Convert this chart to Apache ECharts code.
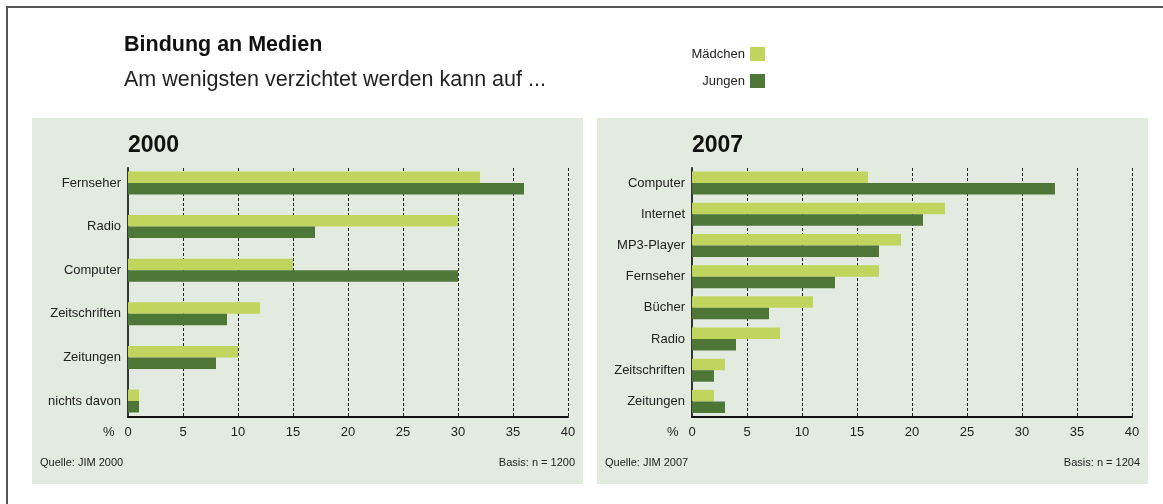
<!DOCTYPE html>
<html>
<head>
<meta charset="utf-8">
<script src="https://cdn.jsdelivr.net/npm/echarts@6/dist/echarts.min.js"></script>
<style>
  html, body { margin: 0; padding: 0; background: #fff; }
  #chart { width: 1163px; height: 504px; }
</style>
</head>
<body>
<div id="chart"></div>
<script>
// Werte (in %)
const cats2000 = ['Fernseher', 'Radio', 'Computer', 'Zeitschriften', 'Zeitungen', 'nichts davon'];
const girls2000 = [32, 30, 15, 12, 10, 1];
const boys2000 = [36, 17, 30, 9, 8, 1];

const cats2007 = ['Computer', 'Internet', 'MP3-Player', 'Fernseher', 'Bücher', 'Radio', 'Zeitschriften', 'Zeitungen'];
const girls2007 = [16, 23, 19, 17, 11, 8, 3, 2];
const boys2007 = [33, 21, 17, 13, 7, 4, 2, 3];

const seriesNames = ['Mädchen', 'Jungen'];
const LIGHT = '#c1d45d';
const DARK = '#4d7637';
const PANEL = '#e3eadf';
const FONT = 'Liberation Sans';

const chart = echarts.init(document.getElementById('chart'));

// achse mit werten, sichtbar (gitter mit gestrichelten linien)
function frameX(gridIndex) {
  return {
    type: 'value', gridIndex, min: 0, max: 40, interval: 5,
    axisLine: { show: true, lineStyle: { color: '#111', width: 2 } },
    axisTick: { show: false },
    axisLabel: { color: '#222', fontSize: 13, fontFamily: FONT, margin: 9 },
    splitLine: { show: true, lineStyle: { color: '#222', type: [3, 2], width: 1 } }
  };
}
function hiddenX(gridIndex) {
  return { type: 'value', gridIndex, min: 0, max: 40, show: false, splitLine: { show: false } };
}
function catY(gridIndex, data) {
  return {
    type: 'category', gridIndex, data, inverse: true,
    axisLine: { show: false }, axisTick: { show: false },
    axisLabel: { color: '#222', fontSize: 13, fontFamily: FONT, margin: 7 }
  };
}
function frameY(gridIndex) {
  return {
    type: 'value', gridIndex, min: 0, max: 1,
    axisLine: { show: true, lineStyle: { color: '#333', width: 2 } },
    axisTick: { show: false }, axisLabel: { show: false },
    splitLine: { show: false }
  };
}
function bar(name, data, axisIndex, color) {
  return {
    name, type: 'bar', data, xAxisIndex: axisIndex, yAxisIndex: axisIndex,
    barWidth: 11.5, barGap: '0%', itemStyle: { color }, silent: true
  };
}

const option = {
  backgroundColor: '#fff',
  animation: false,
  textStyle: { fontFamily: FONT },
  legend: {
    orient: 'vertical', align: 'right', right: 393, top: 42,
    itemWidth: 15, itemHeight: 14, itemGap: 13,
    selectedMode: false, icon: 'rect',
    textStyle: { color: '#222', fontSize: 13, fontFamily: FONT },
    data: seriesNames
  },
  grid: [
    { left: 128, width: 440, top: 161.2, height: 261.6 },  // balken 2000
    { left: 128, width: 440, top: 168, height: 249 },      // rahmen 2000
    { left: 692, width: 440, top: 167.5, height: 249.5 },  // balken 2007
    { left: 692, width: 440, top: 168, height: 249 }       // rahmen 2007
  ],
  xAxis: [hiddenX(0), frameX(1), hiddenX(2), frameX(3)],
  yAxis: [catY(0, cats2000), frameY(1), catY(2, cats2007), frameY(3)],
  series: [
    bar(seriesNames[0], girls2000, 0, LIGHT),
    bar(seriesNames[1], boys2000, 0, DARK),
    bar(seriesNames[0], girls2007, 2, LIGHT),
    bar(seriesNames[1], boys2007, 2, DARK)
  ],
  graphic: [
    { type: 'polyline', z: 10, shape: { points: [[7, 504], [7, 7], [1163, 7]] },
      style: { stroke: '#555', lineWidth: 2, fill: null } },
    { type: 'rect', z: -10, shape: { x: 32, y: 118, width: 551, height: 366 }, style: { fill: PANEL } },
    { type: 'rect', z: -10, shape: { x: 597, y: 118, width: 551, height: 366 }, style: { fill: PANEL } },
    { type: 'text', left: 124, top: 34, style: { text: 'Bindung an Medien', fill: '#111', font: 'bold 21.5px "Liberation Sans"' } },
    { type: 'text', left: 124, top: 69, style: { text: 'Am wenigsten verzichtet werden kann auf ...', fill: '#222', font: '21.5px "Liberation Sans"' } },
    { type: 'text', left: 128, top: 134, style: { text: '2000', fill: '#111', font: 'bold 23px "Liberation Sans"' } },
    { type: 'text', left: 692, top: 134, style: { text: '2007', fill: '#111', font: 'bold 23px "Liberation Sans"' } },
    { type: 'text', left: 103, top: 426, style: { text: '%', fill: '#222', font: '13px "Liberation Sans"' } },
    { type: 'text', left: 667, top: 426, style: { text: '%', fill: '#222', font: '13px "Liberation Sans"' } },
    { type: 'text', left: 40, top: 457, style: { text: 'Quelle: JIM 2000', fill: '#222', font: '11px "Liberation Sans"' } },
    { type: 'text', right: 1163 - 575, top: 457, style: { text: 'Basis: n = 1200', fill: '#222', font: '11px "Liberation Sans"' } },
    { type: 'text', left: 605, top: 457, style: { text: 'Quelle: JIM 2007', fill: '#222', font: '11px "Liberation Sans"' } },
    { type: 'text', right: 1163 - 1140, top: 457, style: { text: 'Basis: n = 1204', fill: '#222', font: '11px "Liberation Sans"' } }
  ]
};

chart.setOption(option);
</script>
</body>
</html>
